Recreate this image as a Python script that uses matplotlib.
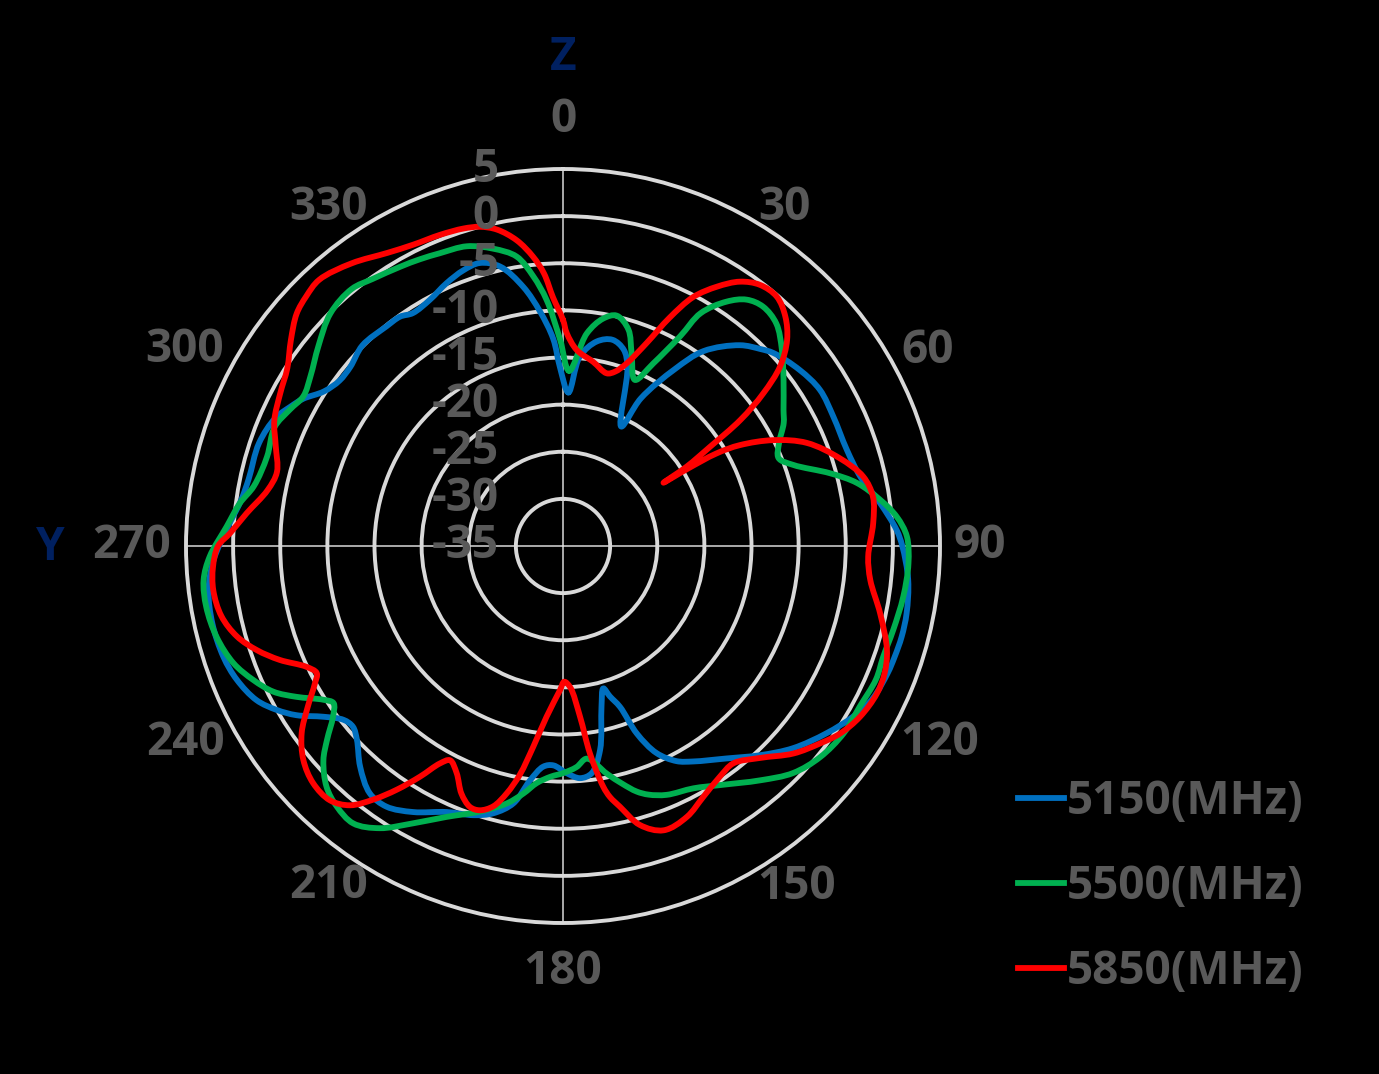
import numpy as np
import matplotlib
matplotlib.use('Agg')
import matplotlib.pyplot as plt
from matplotlib import font_manager
from matplotlib.path import Path
from matplotlib.patches import PathPatch
from matplotlib.lines import Line2D
import matplotlib.transforms as mtransforms

# ---------------- data (angle in degrees, gain in dB) ----------------
blue_deg = [2.0, 5.1, 9.4, 13.5, 17.2, 19.8, 26.0, 27.8, 32.3, 35.8, 41.4, 45.1, 47.5, 53.4,
            58.7, 64.4, 71.3, 76.9, 82.3, 87.3, 90.0, 95.6, 101.1, 105.0, 108.5, 111.3, 116.4,
            120.5, 125.4, 131.3, 136.7, 142.4, 148.9, 152.2, 155.7, 158.5, 160.5, 162.7, 164.2,
            166.5, 169.7, 172.8, 175.8, 179.1, 182.5, 185.1, 188.0, 190.9, 194.6, 198.4,
            203.6, 209.4, 214.1, 218.0, 222.6, 226.8, 229.3, 231.6, 234.5, 237.6, 240.2,
            243.3, 247.7, 251.9, 257.5, 262.9, 267.7, 273.3, 278.1, 282.0, 288.7, 294.0,
            297.0, 299.5, 302.9, 306.5, 310.1, 315.0, 321.2, 324.6, 327.2, 331.6, 336.1,
            340.1, 343.6, 347.3, 351.3, 354.4, 357.3, 359.0]
blue_db = [-18.7, -14.8, -13.0, -12.5, -13.2, -14.8, -20.9, -17.3, -12.8, -9.5, -6.6, -5.4, -4.7, -3.7,
           -3.1, -3.2, -3.2, -2.6, -1.05, 0.45, 1.0, 1.8, 2.15, 2.2, 2.1, 2.0, 1.6,
           0.7, -0.7, -2.5, -4.5, -6.55, -8.3, -9.2, -10.9, -13.6, -16.9, -18.3, -19.3,
           -17.5, -13.0, -10.7, -10.3, -10.9, -11.7, -11.5, -9.9, -7.2, -5.7, -4.9,
           -4.2, -2.6, -1.6, -1.7, -3.2, -5.0, -5.6, -5.3, -3.8, -1.5, 0.0,
           1.4, 2.4, 2.9, 3.1, 2.9, 2.1, 0.6, -0.5, -0.9, -0.95, -1.6,
           -2.5, -3.3, -4.8, -5.5, -5.5, -4.9, -5.1, -5.15, -5.6, -5.3, -4.5,
           -3.9, -3.7, -4.6, -7.2, -10.0, -13.0, -16.0]

green_deg = [2.0, 6.4, 10.0, 13.1, 16.8, 19.6, 23.4, 26.3, 29.2, 30.6, 33.8, 36.7, 39.9, 43.8,
             48.1, 53.0, 58.3, 60.9, 64.5, 67.8, 70.6, 74.8, 77.9, 81.7, 85.0, 88.4, 92.9,
             98.5, 104.3, 109.1, 113.1, 118.4, 123.7, 129.4, 134.6, 139.9, 146.7, 151.7, 157.4,
             161.0, 163.3, 166.0, 169.1, 173.6, 176.5, 180.0, 183.0, 186.3, 189.1, 192.3,
             197.3, 203.3, 208.4, 213.0, 217.1, 221.0, 224.5, 228.2, 230.6, 233.4, 235.6,
             237.3, 240.5, 243.3, 246.6, 250.4, 255.3, 260.3, 264.6, 268.3, 273.3, 277.5,
             281.0, 286.8, 292.4, 296.5, 300.0, 304.0, 309.2, 315.0, 320.6, 324.5, 329.7,
             333.5, 337.2, 342.2, 346.8, 350.9, 353.7, 356.2, 359.2]
green_db = [-16.4, -12.3, -10.5, -9.9, -11.0, -13.3, -15.8, -13.4, -9.5, -6.3, -3.8, -2.4, -1.9, -2.3,
            -3.8, -5.7, -7.5, -8.2, -9.6, -10.3, -9.1, -5.6, -3.1, -1.0, 0.55, 1.5, 1.7,
            1.5, 1.15, 0.95, 1.1, 0.8, 0.8, 0.3, -0.7, -2.5, -4.65, -5.8, -6.4,
            -7.1, -7.8, -9.0, -10.4, -12.3, -11.5, -10.9, -10.5, -9.7, -8.4, -7.05,
            -5.5, -3.7, -1.55, 0.7, 1.9, 1.6, 0.8, -0.9, -2.6, -4.6, -5.5,
            -4.8, -2.5, -0.6, 0.8, 2.1, 3.0, 3.4, 3.3, 2.5, 0.75, -0.4,
            -1.6, -2.2, -1.9, -2.6, -3.2, -2.7, -1.5, -0.1, 0.3, -0.2, -0.7,
            -1.0, -1.3, -1.6, -2.6, -3.9, -6.2, -8.85, -13.1]

red_deg = [0.0, 1.0, 4.0, 9.3, 14.2, 16.6, 19.2, 22.4, 25.0, 27.6, 30.7, 33.8, 37.0, 40.6,
           44.1, 47.4, 50.4, 52.7, 54.6, 56.0, 57.3, 57.8, 58.2, 58.9, 60.3,
           63.3, 67.1, 72.4, 77.0, 81.0, 85.8, 92.0, 96.3, 102.0, 107.8, 111.6, 115.2,
           119.9, 124.1, 127.5, 132.0, 137.1, 141.9, 145.8, 150.8, 155.4, 160.5, 164.6,
           167.7, 169.4, 170.5, 172.6, 174.3, 177.1, 179.5, 181.2, 185.5, 188.4, 190.7,
           192.8, 195.0, 197.5, 199.6, 202.3, 205.1, 207.8, 209.5, 211.8, 214.3, 216.8,
           219.4, 222.5, 226.5, 230.5, 234.4, 237.8, 241.0, 242.7, 244.8, 248.1, 251.2,
           254.5, 258.4, 262.8, 266.6, 270.0, 272.2, 275.9, 280.7, 284.5, 289.3, 293.5,
           298.4, 302.8, 307.1, 311.1, 314.2, 317.5, 323.2, 329.1, 333.6, 338.4, 342.6,
           345.4, 348.2, 351.4, 354.1, 356.0, 357.7]
red_db = [-11.0, -12.4, -14.15, -15.2, -16.1, -15.7, -14.5, -11.7, -8.3, -5.2, -3.0, -1.25, -0.3, -0.15,
          -1.1, -2.7, -5.1, -8.3, -11.9, -16.2, -19.4, -22.4, -19.5, -16.0, -13.4,
          -10.0, -6.9, -4.2, -2.3, -1.7, -2.0, -2.6, -2.2, -0.6, 1.1, 1.7, 1.8,
          1.35, 0.5, -0.6, -2.1, -4.3, -5.7, -5.4, -4.5, -3.4, -3.0, -4.3,
          -6.7, -7.9, -9.1, -12.8, -16.8, -20.0, -20.6, -19.7, -16.8, -13.5, -10.3,
          -8.1, -6.4, -5.6, -5.6, -6.6, -8.4, -9.3, -8.5, -6.2, -3.7, -1.4,
          0.6, 1.6, 1.55, 0.7, -0.9, -3.0, -4.9, -5.6, -4.9, -2.6, -0.7,
          0.9, 2.0, 2.4, 2.2, 1.6, 0.35, -1.25, -3.1, -3.65, -2.7, -1.6,
          -0.9, -0.2, 1.2, 2.5, 3.0, 3.3, 2.45, 1.25, 0.7, 0.5, 0.3,
          0.0, -0.7, -2.2, -4.15, -6.0, -8.6]

series_names = ['5150(MHz)', '5500(MHz)', '5850(MHz)']
series_colors = ['#0070C0', '#00B050', '#FF0000']

angle_ticks = [0, 30, 60, 90, 120, 150, 180, 210, 240, 270, 300, 330]
angle_labels = ['0', '30', '60', '90', '120', '150', '180', '210', '240', '270', '300', '330']
r_ticks = [5, 0, -5, -10, -15, -20, -25, -30, -35]
r_labels = ['5', '0', '-5', '-10', '-15', '-20', '-25', '-30', '-35']

# ---------------- layout / style ----------------
available = {f.name for f in font_manager.fontManager.ttflist}
if 'Liberation Sans Narrow' in available:
    FONT, FS = 'Liberation Sans Narrow', 37
else:
    FONT, FS = 'Open Sans', 33
plt.rcParams['font.family'] = [FONT, 'DejaVu Sans']

TXT = '#595959'
GRID = '#D9D9D9'
W, H = 1379, 1074
cx, cy, R = 563, 546, 377
RMIN, RMAX = -35, 5
LW = 4.2

fig = plt.figure(figsize=(W / 100, H / 100), dpi=100, facecolor='black')
ax = fig.add_axes([(cx - R) / W, (H - cy - R) / H, 2 * R / W, 2 * R / H],
                  projection='polar', facecolor='black')
ax.set_theta_zero_location('N')
ax.set_theta_direction(-1)
ax.set_axisbelow(True)

ax.set_xticks(np.deg2rad([0, 90, 180, 270]))
ax.set_xticklabels([])
ax.set_yticks([t for t in r_ticks if RMIN < t < RMAX])
ax.set_yticklabels([])
ax.tick_params(length=0)
ax.xaxis.grid(True, color=GRID, lw=1.1)
ax.yaxis.grid(True, color=GRID, lw=2.8)
ax.spines['polar'].set_color(GRID)
ax.spines['polar'].set_linewidth(2.8)


def smooth_closed_path(deg, db, alpha=0.5):
    """Excel-style smoothed line: centripetal Catmull-Rom through the data
    points, expressed as cubic Bezier segments in polar data coordinates."""
    th = np.deg2rad(np.asarray(deg, float))
    rho = np.asarray(db, float) - RMIN
    P = np.column_stack([rho * np.sin(th), rho * np.cos(th)])
    n = len(P)
    verts, codes = [P[0]], [Path.MOVETO]
    for i in range(n):
        p0, p1, p2, p3 = P[i - 1], P[i], P[(i + 1) % n], P[(i + 2) % n]
        d1 = max(np.linalg.norm(p1 - p0), 1e-6) ** alpha
        d2 = max(np.linalg.norm(p2 - p1), 1e-6) ** alpha
        d3 = max(np.linalg.norm(p3 - p2), 1e-6) ** alpha
        b1 = (d1 ** 2 * p2 - d2 ** 2 * p0 + (2 * d1 ** 2 + 3 * d1 * d2 + d2 ** 2) * p1) / (3 * d1 * (d1 + d2))
        b2 = (d3 ** 2 * p1 - d2 ** 2 * p3 + (2 * d3 ** 2 + 3 * d3 * d2 + d2 ** 2) * p2) / (3 * d3 * (d3 + d2))
        verts += [b1, b2, p2]
        codes += [Path.CURVE4] * 3
    V = np.array(verts)
    t = np.arctan2(V[:, 0], V[:, 1])
    r = np.hypot(V[:, 0], V[:, 1]) + RMIN
    return Path(np.column_stack([t, r]), codes)


handles = []
for deg, db, col, name in zip([blue_deg, green_deg, red_deg],
                              [blue_db, green_db, red_db],
                              series_colors, series_names):
    patch = PathPatch(smooth_closed_path(deg, db), transform=ax.transData,
                      facecolor='none', edgecolor=col, lw=LW,
                      joinstyle='round', capstyle='round', zorder=3)
    ax.add_patch(patch)
    handles.append(Line2D([], [], color=col, lw=LW, label=name))

ax.set_ylim(RMIN, RMAX)

# angle labels (measured label-centre positions outside the circle)
label_theta = [0, 33.2, 61.8, 90, 117.6, 145.5, 180, 214.6, 242.5, 270, 297.4, 325.3]
label_rpx = [426, 405, 414, 417, 425, 413, 426, 413, 426, 431, 426, 412]
px2r = (RMAX - RMIN) / R
for lab, th, rp in zip(angle_labels, label_theta, label_rpx):
    ax.text(np.deg2rad(th), RMIN + rp * px2r, lab, color=TXT, fontsize=FS,
            fontweight='bold', ha='center', va='center', clip_on=False, zorder=5)

# radial value labels, right aligned left of the vertical axis
off = mtransforms.offset_copy(ax.transData, fig=fig, x=-64, y=0, units='dots')
for v, lab in zip(r_ticks, r_labels):
    ax.text(0, v, lab, transform=off, color=TXT, fontsize=FS, fontweight='bold',
            ha='right', va='center', clip_on=False, zorder=5)

# axis names
fig.text(cx / W, 1 - 57 / H, 'Z', color='#002060', fontsize=FS, fontweight='bold',
         ha='center', va='center')
fig.text(50 / W, 1 - 548 / H, 'Y', color='#002060', fontsize=FS, fontweight='bold',
         ha='center', va='center')

fs_px = FS * 100 / 72
leg = fig.legend(handles=handles, loc='upper left', bbox_to_anchor=(1018 / W, 1 - 778 / H),
                 frameon=False, handlelength=46 / fs_px, handletextpad=3 / fs_px,
                 labelspacing=0.83, borderpad=0, borderaxespad=0,
                 prop={'weight': 'bold', 'size': FS})
for t in leg.get_texts():
    t.set_color(TXT)

fig.savefig('out.png', dpi=100, facecolor='black')
